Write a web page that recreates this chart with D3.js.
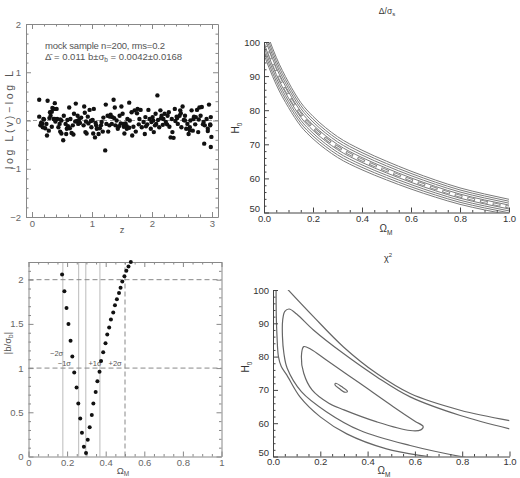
<!DOCTYPE html>
<html>
<head>
<meta charset="utf-8">
<script src="https://cdn.jsdelivr.net/npm/d3@7"></script>
<style>
body { margin: 0; background: #fff; }
svg text { font-family: "Liberation Sans", Arial, sans-serif; }
</style>
</head>
<body>
<svg id="chart" width="520" height="478"></svg>
<script>
// ---------- data ----------

// top left: residuals of the mock sample vs redshift
const resZ = [0.12,0.12,0.14,0.17,0.19,0.18, 0.22,0.25,0.26,0.24,0.29,0.28,0.30,
  0.31,0.34,0.37,0.38,0.36,0.39,0.33, 0.41,0.42,0.44,0.47,0.49,0.49,0.46,
  0.52,0.53,0.56,0.58,0.59,0.57, 0.62,0.64,0.66,0.68,0.69,0.63,0.70,
  0.73,0.75,0.77,0.79,0.76, 0.82,0.86,0.88,0.87,0.89, 0.91,0.93,0.96,0.98,0.99,0.94,
  1.01,1.03,1.05,1.07,1.08,1.02, 1.11,1.13,1.16,1.18,1.19, 1.22,1.23,1.26,1.27,1.29,1.24,
  1.31,1.33,1.36,1.38,1.39,1.34, 1.41,1.43,1.46,1.48,1.49, 1.51,1.53,1.56,1.58,1.59,1.54,
  1.62,1.63,1.66,1.67,1.69, 1.71,1.73,1.76,1.78,1.79, 1.81,1.83,1.86,1.88,1.89,
  1.92,1.94,1.96,1.98,1.99, 2.01,2.03,2.06,2.07,2.09,2.10, 2.12,2.14,2.16,2.18,2.19,
  2.21,2.23,2.26,2.28,2.29, 2.31,2.33,2.34,2.36,2.38,2.39, 2.41,2.43,2.46,2.47,2.49,
  2.51,2.53,2.55,2.57,2.59, 2.61,2.63,2.64,2.66,2.68,2.69, 2.72,2.73,2.75,2.77,2.79,
  2.81,2.83,2.86,2.87,2.88, 2.91,2.93,2.95,2.97,2.98,2.99,2.98,
  0.15,0.20,0.33,0.38,0.47,0.60,0.72,0.80,0.90,1.00,1.06,1.15,1.30,1.37,1.45,1.52,1.58,
  1.62,1.75,1.90,2.02,2.05,2.15,2.25,2.42,2.48,2.55,2.63,2.70,2.78,2.85,2.93,2.97];
const resD = [0.43,0.08,-0.10,-0.06,0.03,-0.14, -0.16,-0.31,0.41,-0.07,0.05,-0.21,0.17,
  0.10,0.26,0.24,0.36,0.03,-0.02,-0.13, 0.24,0.03,-0.14,-0.23,0.00,-0.27,-0.07,
  -0.41,0.10,-0.07,-0.17,0.01,-0.28, 0.27,0.03,-0.26,-0.10,-0.29,-0.16,0.14,
  0.35,-0.01,-0.07,0.03,0.10, 0.06,-0.10,0.16,0.29,-0.24, -0.27,0.08,0.22,-0.01,-0.14,-0.06,
  0.01,0.24,-0.35,-0.10,-0.17,-0.27, -0.28,-0.16,-0.03,-0.23,0.06, -0.62,0.33,0.10,-0.23,-0.10,-0.07,
  0.12,-0.07,0.43,0.27,-0.10,0.07, 0.00,-0.17,0.10,-0.06,0.29, 0.14,-0.13,-0.06,-0.17,0.03,-0.27,
  0.37,0.00,0.17,-0.31,-0.13, 0.21,-0.23,0.24,-0.08,0.03, 0.22,-0.14,-0.03,-0.28,0.07,
  -0.08,0.22,0.03,-0.17,-0.03, 0.07,-0.24,0.14,-0.07,0.52,0.01, -0.14,0.21,0.10,-0.09,0.03,
  0.14,-0.03,0.10,0.17,-0.13, -0.35,0.03,-0.24,-0.36,0.24,-0.01, 0.08,-0.07,0.10,0.21,-0.14,
  0.29,0.01,0.10,-0.17,-0.07, -0.28,-0.14,0.00,0.21,-0.21,0.03, -0.08,0.07,0.22,-0.24,0.27,
  0.10,0.28,-0.03,-0.48,-0.10, 0.03,-0.17,0.33,-0.08,-0.55,-0.34,0.07,
  -0.05,0.02,0.18,0.03,0.02,-0.12,-0.02,-0.05,-0.02,0.00,-0.05,-0.10,0.08,0.05,-0.12,-0.07,-0.12,
  -0.15,0.15,-0.12,0.00,-0.10,0.05,-0.08,0.05,0.15,0.00,-0.20,0.08,0.02,-0.08,-0.22,-0.10];
const resTicksX = [0, 1, 2, 3];
const resTicksY = [-2, -1, 0, 1, 2];

// top right: Delta/sigma band in the (Omega_M, H0) plane
const bandOm = [0, 0.02, 0.05, 0.1, 0.15, 0.2, 0.25, 0.3, 0.4, 0.5, 0.6, 0.7, 0.8, 0.9, 1.0];
const bandH0 = [100.8, 96.8, 91.5, 84.5, 78.8, 74.9, 71.8, 69.2, 65.4, 62.3, 59.5, 57.0, 54.8, 53.1, 51.6];
const bandOffsets = [-0.044, -0.033, -0.022, -0.011, 0.011, 0.022, 0.033, 0.044];

// bottom left: |b/sigma_b| scan over Omega_M
const scanOm = [0.174,0.186,0.197,0.207,0.218,0.227,0.237,0.249,0.258,0.268,0.277,0.287,0.298,
  0.307,0.317,0.328,0.336,0.348,0.357,0.368,0.376,0.387,0.399,0.408,0.418,0.427,0.439,
  0.448,0.458,0.469,0.477,0.486,0.497,0.507,0.518,0.53];
const scanB = [2.06,1.87,1.68,1.50,1.31,1.13,0.95,0.78,0.60,0.43,0.27,0.11,0.04,
  0.19,0.33,0.47,0.60,0.73,0.85,0.96,1.08,1.18,1.28,1.38,1.46,1.55,1.63,
  1.71,1.78,1.85,1.91,1.98,2.04,2.10,2.15,2.20];
const sigmaLines = [0.178, 0.26, 0.297, 0.37];
const sigmaNames = ['\u22122\u03c3', '\u22121\u03c3', '+1\u03c3', '+2\u03c3'];
const sigmaNameAt = [[0.18, 1.17], [0.22, 1.06], [0.379, 1.06], [0.483, 1.06]];
const scanTicksX = [0, 0.2, 0.4, 0.6, 0.8, 1];
const scanTicksY = [0, 0.5, 1, 1.5, 2];

// bottom right: chi^2 contours
const chiOuterLow = [[0.013,100.5],[0.014,92],[0.017,86],[0.023,80],[0.035,77],[0.058,74.5],
  [0.114,67.9],[0.2,61.9],[0.312,56.8],[0.48,52.3],[0.665,49.8],[0.7,49.3]];
const chiOuterHigh = [[0.058,100.5],[0.171,92],[0.298,82.9],[0.439,74.9],[0.58,68.9],[0.792,63.9],[1.0,60.8]];
const chiTwoSigma = [[1.0,58.3],[0.792,62.3],[0.58,67.9],[0.439,73.9],[0.298,80.9],[0.171,88],
  [0.1,92.8],[0.068,94.3],[0.05,93.6],[0.041,91],[0.04,86],[0.046,81],[0.06,76.5],[0.12,69.5],
  [0.227,63.4],[0.369,57.8],[0.58,53.3],[0.807,49.8],[0.85,49.3]];
const chiOneSigma = [[0.13,83],[0.16,82.2],[0.227,78.9],[0.369,71.9],[0.51,64.9],[0.6,60.6],
  [0.635,59.0],[0.625,58.0],[0.58,57.8],[0.439,60.4],[0.3,64],[0.236,66],[0.165,70],[0.13,75],[0.12,80]];
const chiBest = [[0.265,72.0],[0.29,71.0],[0.315,69.6],[0.305,69.3],[0.28,70.4],[0.262,71.5]];
const hTicks = [50, 60, 70, 80, 90, 100];
const omTicks = [0, 0.2, 0.4, 0.6, 0.8, 1.0];

// ---------- drawing ----------
const svg = d3.select('#chart');

function minorsOf(lo, hi, step, majors) {
  return d3.range(Math.round(lo / step), Math.round(hi / step) + 1)
    .map(i => +(i * step).toFixed(4))
    .filter(v => !majors.some(m => Math.abs(m - v) < 1e-6));
}

function styleAxis(g, stroke, fill, size) {
  g.attr('font-family', null).attr('font-size', null);
  g.selectAll('path, line').attr('stroke', stroke);
  g.selectAll('text').attr('fill', fill).style('font-size', size + 'px');
}

// boxed axes (PGPLOT style) for the two left panels
function boxAxes(g, x, y, xMaj, yMaj, xMin, yMin, fx, fy) {
  const bottom = y.range()[0], top = y.range()[1];
  const left = x.range()[0], right = x.range()[1];
  const defs = [
    [d3.axisBottom(x), `translate(0,${bottom})`, xMaj, xMin, fx],
    [d3.axisTop(x), `translate(0,${top})`, xMaj, xMin, null],
    [d3.axisLeft(y), `translate(${left},0)`, yMaj, yMin, fy],
    [d3.axisRight(y), `translate(${right},0)`, yMaj, yMin, null]
  ];
  defs.forEach(([ax, tr, maj, min, fmt], i) => {
    const a = g.append('g').attr('transform', tr)
      .call(ax.tickValues(maj).tickSizeInner(-5).tickSizeOuter(0)
        .tickPadding(i == 0 ? 3 : 5).tickFormat(fmt || ''));
    styleAxis(a, '#888', '#666', 9.5);
    const b = g.append('g').attr('transform', tr)
      .call(ax.tickValues(min).tickSizeInner(-2.5).tickSizeOuter(0).tickFormat(''));
    b.select('.domain').remove();
    styleAxis(b, '#888', '#666', 9);
  });
}

// IDL style axes for the two right panels (left + bottom only)
function idlAxes(g, x, y, pad) {
  const bottom = y.range()[0], left = x.range()[0];
  const xa = g.append('g').attr('transform', `translate(0,${bottom})`)
    .call(d3.axisBottom(x).tickValues(omTicks).tickSizeInner(-5).tickSizeOuter(0)
      .tickPadding(pad).tickFormat(d3.format('.1f')));
  styleAxis(xa, '#444', '#333', 9.5);
  const xm = g.append('g').attr('transform', `translate(0,${bottom})`)
    .call(d3.axisBottom(x).tickValues(minorsOf(0, 1, 0.05, omTicks)).tickSizeInner(-2.5).tickFormat(''));
  xm.select('.domain').remove();
  styleAxis(xm, '#444', '#333', 9);
  const ya = g.append('g').attr('transform', `translate(${left},0)`)
    .call(d3.axisLeft(y).tickValues(hTicks).tickSizeInner(-5).tickSizeOuter(0)
      .tickPadding(4).tickFormat(d3.format('d')));
  styleAxis(ya, '#444', '#333', 9.5);
  // the lowest label sits just above the x labels, as in the figure
  ya.selectAll('.tick text').filter(d => d === 50).attr('dy', '-0.1em');
  const ym = g.append('g').attr('transform', `translate(${left},0)`)
    .call(d3.axisLeft(y).tickValues(minorsOf(50, 100, 2, hTicks)).tickSizeInner(-2.5).tickFormat(''));
  ym.select('.domain').remove();
  styleAxis(ym, '#444', '#333', 9);
}

function omegaLabel(g, cx, cy) {
  const t = g.append('text').attr('x', cx).attr('y', cy).attr('text-anchor', 'middle')
    .attr('font-size', 10).attr('fill', '#333').text('\u03a9');
  t.append('tspan').attr('dy', 2.5).attr('font-size', 6.5).text('M');
}

function h0Label(g, cx, cy) {
  const t = g.append('text').attr('transform', `translate(${cx},${cy}) rotate(-90)`)
    .attr('text-anchor', 'middle').attr('font-size', 10).attr('fill', '#333').text('H');
  t.append('tspan').attr('dy', 2.5).attr('font-size', 6.5).text('0');
}

// ---- panel: residuals ----
const gA = svg.append('g');
const xA = d3.scaleLinear().domain([-0.1, 3.1]).range([26, 218]);
const yA = d3.scaleLinear().domain([-2, 2]).range([217, 24]);

gA.append('line').attr('x1', xA.range()[0]).attr('x2', xA.range()[1])
  .attr('y1', yA(0)).attr('y2', yA(0))
  .attr('stroke', '#999').attr('stroke-dasharray', '4,3');

boxAxes(gA, xA, yA, resTicksX, resTicksY,
  minorsOf(0, 3, 0.2, resTicksX), minorsOf(-2, 2, 0.2, resTicksY),
  d3.format('d'), d3.format('d'));

gA.append('g').selectAll('circle')
  .data(resZ.map((z, i) => [z, resD[i]]))
  .enter().append('circle')
  .attr('cx', d => xA(d[0]))
  .attr('cy', d => yA(d[1]))
  .attr('r', 2.2)
  .attr('fill', '#111');

gA.append('text').attr('x', 45).attr('y', 49).attr('font-size', 9.5).attr('fill', '#555')
  .attr('textLength', 120).attr('lengthAdjust', 'spacing')
  .text('mock sample n=200, rms=0.2');
const ann = gA.append('text').attr('x', 45).attr('y', 59.5).attr('font-size', 9.5).attr('fill', '#555');
ann.append('tspan').text('\u0394\u0304 = 0.011  b\u00b1\u03c3');
ann.append('tspan').attr('dy', 2).attr('font-size', 6.5).text('b');
ann.append('tspan').attr('dy', -2).text(' = 0.0042\u00b10.0168');

gA.append('text').attr('transform', 'translate(13,120) rotate(-90)')
  .attr('text-anchor', 'middle').attr('font-size', 10.5).attr('fill', '#555')
  .attr('textLength', 98).attr('lengthAdjust', 'spacing')
  .text('log L(v)\u2212log L');
gA.append('text').attr('x', 122).attr('y', 233).attr('text-anchor', 'middle')
  .attr('font-size', 9.5).attr('fill', '#555').text('z');

// ---- panel: Delta / sigma band ----
const gB = svg.append('g');
const xB = d3.scaleLinear().domain([0, 1]).range([264, 509]);
const yB = d3.scaleLinear().domain([50, 100]).range([212.5, 42]);
svg.append('clipPath').attr('id', 'clipB').append('rect')
  .attr('x', 264).attr('y', 42).attr('width', 245).attr('height', 170.5);

const bandLine = d3.line().x(d => xB(d[0])).y(d => yB(d[1])).curve(d3.curveMonotoneX);
const bandG = gB.append('g').attr('clip-path', 'url(#clipB)');
bandG.selectAll('path.band')
  .data(bandOffsets.map(k => bandOm.map((o, i) => [o, bandH0[i] * (1 + k)])))
  .enter().append('path').attr('class', 'band')
  .attr('d', bandLine).attr('fill', 'none').attr('stroke', '#7a7a7a').attr('stroke-width', 1);
const centre = bandOm.map((o, i) => [o, bandH0[i]]);
bandG.append('path').datum(centre).attr('d', bandLine).attr('fill', 'none')
  .attr('stroke', '#888').attr('stroke-width', 2.8).attr('stroke-dasharray', '8,5');
bandG.append('path').datum(centre).attr('d', bandLine).attr('fill', 'none')
  .attr('stroke', '#fff').attr('stroke-width', 1).attr('stroke-dasharray', '6,7')
  .attr('stroke-dashoffset', -1);

idlAxes(gB, xB, yB, 3);
omegaLabel(gB, 386, 232);
h0Label(gB, 239, 128);
const tB = gB.append('text').attr('x', 387).attr('y', 14).attr('text-anchor', 'middle')
  .attr('font-size', 8.5).attr('fill', '#333').text('\u0394/\u03c3');
tB.append('tspan').attr('dy', 2).attr('font-size', 6).text('s');

// ---- panel: |b/sigma_b| scan ----
const gC = svg.append('g');
const xC = d3.scaleLinear().domain([0, 1]).range([28.5, 221.5]);
const yC = d3.scaleLinear().domain([0, 2.2]).range([456.5, 262]);

gC.selectAll('line.sig').data(sigmaLines).enter().append('line').attr('class', 'sig')
  .attr('x1', d => xC(d)).attr('x2', d => xC(d))
  .attr('y1', yC.range()[0]).attr('y2', yC.range()[1])
  .attr('stroke', '#bbb').attr('stroke-width', 1);
gC.selectAll('line.hdash').data([1, 2]).enter().append('line').attr('class', 'hdash')
  .attr('x1', xC.range()[0]).attr('x2', xC.range()[1])
  .attr('y1', d => yC(d)).attr('y2', d => yC(d))
  .attr('stroke', '#888').attr('stroke-dasharray', '5,3');
gC.append('line').attr('x1', xC(0.5)).attr('x2', xC(0.5))
  .attr('y1', yC.range()[0]).attr('y2', yC.range()[1])
  .attr('stroke', '#888').attr('stroke-dasharray', '5,3');

boxAxes(gC, xC, yC, scanTicksX, scanTicksY,
  minorsOf(0, 1, 0.05, scanTicksX), minorsOf(0, 2.2, 0.1, scanTicksY),
  d3.format('~g'), d3.format('~g'));

gC.selectAll('text.signame').data(sigmaNames).enter().append('text').attr('class', 'signame')
  .attr('x', (d, i) => xC(sigmaNameAt[i][0])).attr('y', (d, i) => yC(sigmaNameAt[i][1]) + 3)
  .attr('text-anchor', 'end').attr('font-size', 7.5).attr('fill', '#555').text(d => d);

gC.append('g').selectAll('circle')
  .data(scanOm.map((o, i) => [o, scanB[i]]))
  .enter().append('circle')
  .attr('cx', d => xC(d[0])).attr('cy', d => yC(d[1]))
  .attr('r', 2).attr('fill', '#111');

const yLabC = gC.append('text').attr('transform', 'translate(11,343) rotate(-90)')
  .attr('text-anchor', 'middle').attr('font-size', 9.5).attr('fill', '#555').text('|b/\u03c3');
yLabC.append('tspan').attr('dy', 2).attr('font-size', 6.5).text('b');
yLabC.append('tspan').attr('dy', -2).text('|');
const xLabC = gC.append('text').attr('x', 123).attr('y', 474).attr('text-anchor', 'middle')
  .attr('font-size', 9.5).attr('fill', '#555').text('\u03a9');
xLabC.append('tspan').attr('dy', 2).attr('font-size', 6.5).text('M');

// ---- panel: chi^2 contours ----
const gD = svg.append('g');
const xD = d3.scaleLinear().domain([0, 1]).range([273, 509.5]);
const yD = d3.scaleLinear().domain([50, 100]).range([456.5, 290]);
svg.append('clipPath').attr('id', 'clipD').append('rect')
  .attr('x', 273).attr('y', 290).attr('width', 236.5).attr('height', 166.5);

const openLine = d3.line().x(d => xD(d[0])).y(d => yD(d[1])).curve(d3.curveCatmullRom.alpha(0.5));
const closedLine = d3.line().x(d => xD(d[0])).y(d => yD(d[1])).curve(d3.curveCatmullRomClosed.alpha(0.5));
const chiG = gD.append('g').attr('clip-path', 'url(#clipD)')
  .attr('fill', 'none').attr('stroke', '#666').attr('stroke-width', 1.2);
[chiOuterLow, chiOuterHigh, chiTwoSigma].forEach(c => chiG.append('path').datum(c).attr('d', openLine));
[chiOneSigma, chiBest].forEach(c => chiG.append('path').datum(c).attr('d', closedLine));

idlAxes(gD, xD, yD, 1.5);
omegaLabel(gD, 384, 474);
h0Label(gD, 249, 367);
const tD = gD.append('text').attr('x', 388).attr('y', 261).attr('text-anchor', 'middle')
  .attr('font-size', 9).attr('fill', '#333').text('\u03c7');
tD.append('tspan').attr('dy', -4).attr('font-size', 6).text('2');
</script>
</body>
</html>
